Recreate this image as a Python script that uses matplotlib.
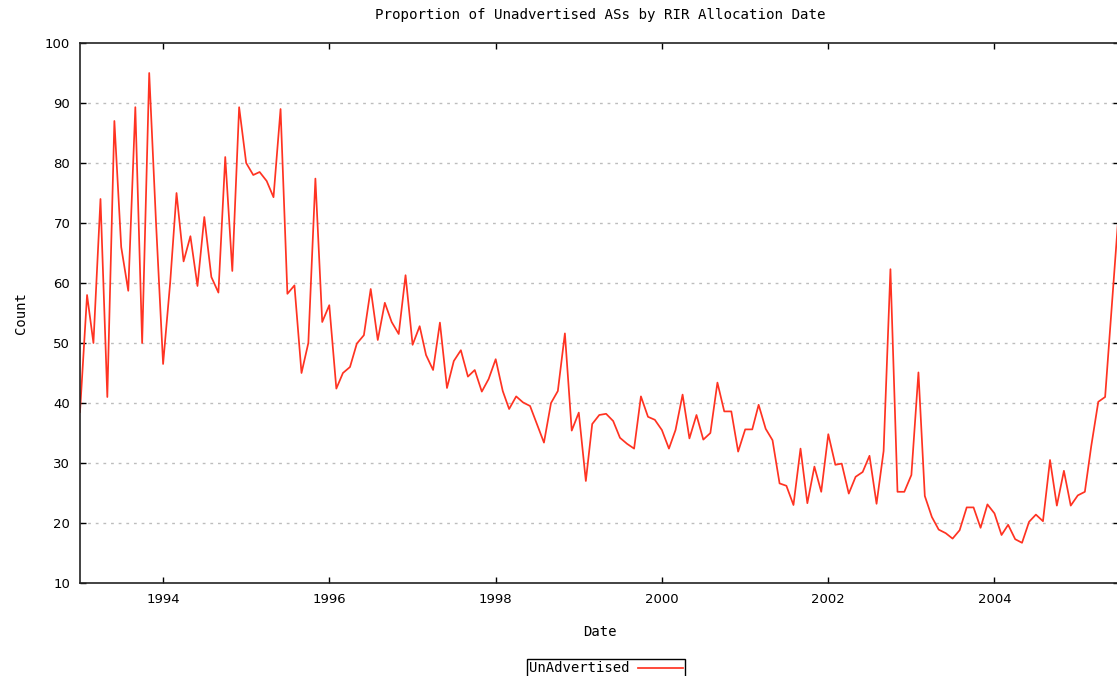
import matplotlib
matplotlib.use("Agg")
import matplotlib.pyplot as plt
import matplotlib.dates as mdates
import pandas as pd

# monthly counts, Jan 1993 .. Jul 2005
counts = [
    38.5, 58, 50, 74, 41, 87, 66, 58.7, 89.3, 50, 95, 70,
    46.5, 60, 75, 63.6, 67.8, 59.5, 71, 61, 58.4, 81, 62, 89.3,
    80, 78, 78.5, 77, 74.3, 89, 58.2, 59.6, 45, 50, 77.4, 53.5,
    56.3, 42.4, 45, 46, 49.9, 51.3, 59, 50.5, 56.7, 53.5, 51.5, 61.3,
    49.7, 52.8, 48, 45.5, 53.4, 42.5, 47, 48.8, 44.4, 45.5, 41.9, 44,
    47.3, 42, 39, 41.1, 40.1, 39.5, 36.5, 33.4, 40, 42, 51.6, 35.4,
    38.4, 27, 36.5, 38, 38.2, 37, 34.2, 33.2, 32.4, 41.1, 37.7, 37.2,
    35.5, 32.4, 35.5, 41.4, 34.1, 38, 33.9, 35, 43.4, 38.6, 38.6, 31.9,
    35.6, 35.6, 39.7, 35.7, 33.8, 26.6, 26.2, 23, 32.4, 23.3, 29.4, 25.2,
    34.8, 29.7, 29.9, 24.9, 27.7, 28.5, 31.2, 23.2, 32, 62.3, 25.2, 25.2,
    28, 45.1, 24.5, 21, 18.9, 18.3, 17.4, 18.8, 22.6, 22.6, 19.2, 23.1,
    21.6, 18, 19.7, 17.3, 16.7, 20.2, 21.4, 20.3, 30.5, 22.9, 28.7, 22.9,
    24.6, 25.2, 32.8, 40.2, 41, 57, 72.5,
]
dates = pd.date_range("1993-01-01", periods=len(counts), freq="MS")
y_ticks = list(range(10, 101, 10))

mono = "DejaVu Sans Mono"
red = "#ff3322"

fig = plt.figure(figsize=(11.17, 6.76), dpi=100)
ax = fig.add_axes([80 / 1117, 93 / 676, 1039 / 1117, 540 / 676])

ax.plot(dates, counts, color=red, lw=1.25, label="UnAdvertised")

ax.set_xlim(dates[0], dates[-1])
ax.set_ylim(10, 100)
ax.set_yticks(y_ticks)
ax.xaxis.set_major_locator(mdates.YearLocator(2))
ax.xaxis.set_major_formatter(mdates.DateFormatter("%Y"))

for yv in y_ticks[1:-1]:
    ax.axhline(yv, color="#bdbdbd", lw=1.0, ls=(0, (2, 3.5)), zorder=0)

ax.tick_params(direction="in", length=4.5, width=1.0, top=True, right=True,
               labelsize=9.5, colors="black", pad=7)
for s in ax.spines.values():
    s.set_linewidth(1.2)
    s.set_color("#222222")

ax.set_xlabel("Date", fontsize=10, family=mono, labelpad=14)
ax.set_ylabel("Count", fontsize=10, family=mono, labelpad=12)
fig.text(0.537, 0.978, "Proportion of Unadvertised ASs by RIR Allocation Date",
         ha="center", va="center", fontsize=10.2, family=mono)

leg = fig.legend(loc="upper center", bbox_to_anchor=(0.5425, 0.036),
                 bbox_transform=fig.transFigure, markerfirst=False,
                 fancybox=False, framealpha=1, edgecolor="black",
                 prop={"family": mono, "size": 10}, handlelength=3.2,
                 borderpad=0.2, handletextpad=0.6)
leg.get_frame().set_linewidth(1.0)

fig.savefig("out.png", dpi=100)
